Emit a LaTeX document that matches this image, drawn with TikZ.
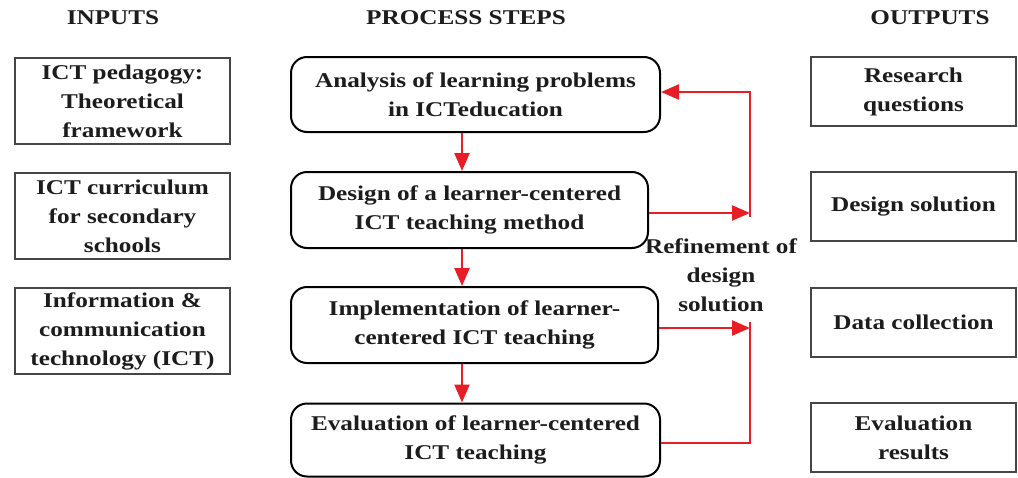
\documentclass[tikz,border=0pt]{standalone}
\usepackage{fontspec}
\setmainfont{Liberation Serif}[FakeStretch=1.2]
\usetikzlibrary{arrows.meta}
\definecolor{flowred}{RGB}{232,30,38}
\definecolor{ink}{RGB}{28,28,28}
\definecolor{frame}{RGB}{70,70,70}
\begin{document}
\begin{tikzpicture}[x=1pt,y=-1pt,
  every node/.style={text=ink,font=\fontsize{21}{29}\selectfont\bfseries,align=center,inner sep=0pt},
  header/.style={},
  inbox/.style={draw=frame,line width=1.5pt,minimum width=215pt,minimum height=86pt},
  outbox/.style={draw=frame,line width=1.5pt,minimum width=205pt,minimum height=69pt},
  stepbox/.style={draw=black,line width=2pt,rounded corners=16pt,minimum height=75pt},
  flow/.style={draw=flowred,line width=2.4pt},
  flowarrow/.style={flow,-{Triangle[length=18pt,width=15pt]}}]
\useasboundingbox (0,0) rectangle (1018,477);

% column headers
\node[header] (hin)  at (113,18) {INPUTS};
\node[header] (hpro) at (466,18) {PROCESS STEPS};
\node[header] (hout) at (930,18) {OUTPUTS};

% inputs
\node[inbox] (in1) at (122.5,101) {ICT pedagogy:\\Theoretical\\framework};
\node[inbox] (in2) at (122.5,216) {ICT curriculum\\for secondary\\schools};
\node[inbox] (in3) at (122.5,331) {Information \&\\communication\\technology (ICT)};

% process steps
\node[stepbox,minimum width=369pt] (p1) at (475.5,94.5) {Analysis of learning problems\\in ICTeducation};
\node[stepbox,minimum width=357pt,minimum height=76pt] (p2) at (469.5,210) {Design of a learner-centered\\ICT teaching method};
\node[stepbox,minimum width=367pt,minimum height=76pt] (p3) at (474.5,325) {Implementation of learner-\\centered ICT teaching};
\node[stepbox,minimum width=369pt,minimum height=73pt] (p4) at (475.5,440) {Evaluation of learner-centered\\ICT teaching};

% outputs
\node[outbox] (o1) at (913.5,91.5) {Research\\questions};
\node[outbox] (o2) at (913.5,206.5) {Design solution};
\node[outbox] (o3) at (913.5,322.5) {Data collection};
\node[outbox] (o4) at (913.5,437.5) {Evaluation\\results};

% refinement label
\node (ref) at (721,275) {Refinement of\\design\\solution};

% step-to-step arrows
\coordinate (ax) at (462,0);
\draw[flowarrow] (p1.south -| ax) -- (p2.north -| ax);
\draw[flowarrow] (p2.south -| ax) -- (p3.north -| ax);
\draw[flowarrow] (p3.south -| ax) -- (p4.north -| ax);

% refinement loops
\coordinate (lt) at (750,92);
\coordinate (lm) at (750,213);
\coordinate (lb) at (750,217);
\coordinate (ut) at (750,322);
\coordinate (um) at (750,328);
\coordinate (ub) at (750,443);
\draw[flowarrow] (p2.east |- lm) -- (lm);
\draw[flowarrow] (lb) -- (lt) -- (p1.east |- lt);
\draw[flowarrow] (p3.east |- um) -- (um);
\draw[flow] (p4.east |- ub) -- (ub) -- (ut);
\end{tikzpicture}
\end{document}
